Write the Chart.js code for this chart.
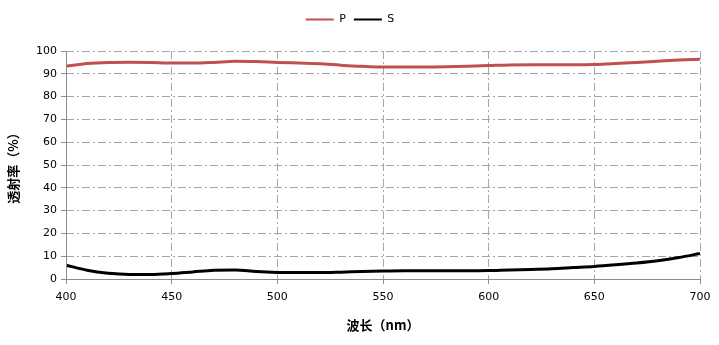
<!DOCTYPE html>
<html><head><meta charset="utf-8">
<script src="https://cdn.jsdelivr.net/npm/chart.js@4/dist/chart.umd.min.js"></script>
<style>html,body{margin:0;padding:0;background:#fff}#wrap{width:719px;height:345px}</style>
</head><body><div id="wrap"><canvas id="c" width="719" height="345"></canvas></div>
<script>
const wavelengths = [400,410,420,430,440,450,460,470,480,490,500,510,520,530,540,550,560,570,580,590,600,610,620,630,640,650,660,670,680,690,700];
const seriesP = [93.3,94.5,95.0,95.1,95.0,94.7,94.7,95.0,95.5,95.4,95.0,94.7,94.4,93.8,93.3,93.0,93.0,93.0,93.1,93.3,93.6,93.9,94.0,94.0,94.0,94.1,94.5,95.0,95.5,96.0,96.4];
const seriesS = [6.1,3.8,2.5,2.0,2.0,2.4,3.1,3.8,4.0,3.3,2.9,2.8,2.8,3.0,3.3,3.5,3.6,3.6,3.6,3.6,3.7,4.0,4.2,4.5,5.0,5.5,6.2,7.0,8.0,9.4,11.2];
const xTicks = [400,450,500,550,600,650,700];
const yTicks = [0,10,20,30,40,50,60,70,80,90,100];

const tickFont = {family:'"DejaVu Sans", sans-serif', size: 11};
const titleFont = {family:'"Noto Sans CJK SC", sans-serif', size: 13, weight:'bold'};
const gridColor = '#a6a6a6';

const legendSpace = {
  id:'legendSpace',
  beforeInit(chart){
    const orig = chart.legend.fit;
    chart.legend.fit = function(){ orig.call(this); this.height += 16; };
  }
};
const solidAxes = {
  id:'solidAxes',
  afterDatasetsDraw(chart){
    const {ctx, chartArea:a} = chart;
    ctx.save(); ctx.strokeStyle = '#8c8c8c'; ctx.lineWidth = 1; ctx.setLineDash([]);
    ctx.beginPath();
    ctx.moveTo(Math.round(a.left)+0.5, a.top); ctx.lineTo(Math.round(a.left)+0.5, a.bottom);
    ctx.moveTo(a.left, Math.round(a.bottom)+0.5); ctx.lineTo(a.right, Math.round(a.bottom)+0.5);
    ctx.stroke(); ctx.restore();
  }
};

new Chart(document.getElementById('c'), {
  type: 'line',
  data: {
    datasets: [
      {label:'P', data: wavelengths.map((w,i)=>({x:w,y:seriesP[i]})), borderColor:'#C0504D', backgroundColor:'#C0504D', borderWidth:3, pointRadius:0, cubicInterpolationMode:'monotone'},
      {label:'S', data: wavelengths.map((w,i)=>({x:w,y:seriesS[i]})), borderColor:'#000000', backgroundColor:'#000000', borderWidth:3, pointRadius:0, cubicInterpolationMode:'monotone'}
    ]
  },
  plugins:[legendSpace, solidAxes],
  options: {
    responsive:false, animation:false,
    layout:{padding:{top:6,right:19,left:0,bottom:8}},
    plugins:{
      legend:{position:'top', labels:{boxWidth:28, boxHeight:2, color:'#000', font:{family:'"DejaVu Sans", sans-serif', size:11}, padding:8,
        generateLabels(chart){ return chart.data.datasets.map((d,i)=>({text:d.label, fillStyle:d.borderColor, strokeStyle:d.borderColor, lineWidth:0, datasetIndex:i, fontColor:'#000'})); }}},
      tooltip:{enabled:false}
    },
    scales:{
      x:{type:'linear', min:400, max:700,
        afterBuildTicks(s){ s.ticks = xTicks.map(v=>({value:v})); },
        afterFit(s){ s.height = 58; },
        grid:{color:gridColor, lineWidth:1, drawTicks:true, tickLength:5, tickColor:'#8c8c8c'},
        border:{display:false, dash:[8,3,2,3]},
        ticks:{color:'#000', font:tickFont, padding:7, maxRotation:0},
        title:{display:true, text:'波长（nm）', color:'#000', font:titleFont, padding:{top:8,bottom:4}}
      },
      y:{min:0, max:100,
        afterBuildTicks(s){ s.ticks = yTicks.map(v=>({value:v})); },
        afterFit(s){ s.width = 66; },
        grid:{color:gridColor, lineWidth:1, drawTicks:true, tickLength:5, tickColor:'#8c8c8c'},
        border:{display:false, dash:[8,3,2,3]},
        ticks:{color:'#000', font:tickFont, padding:4},
        title:{display:true, text:'透射率（%）', color:'#000', font:titleFont, padding:{top:5,bottom:6}}
      }
    }
  }
});
</script></body></html>
